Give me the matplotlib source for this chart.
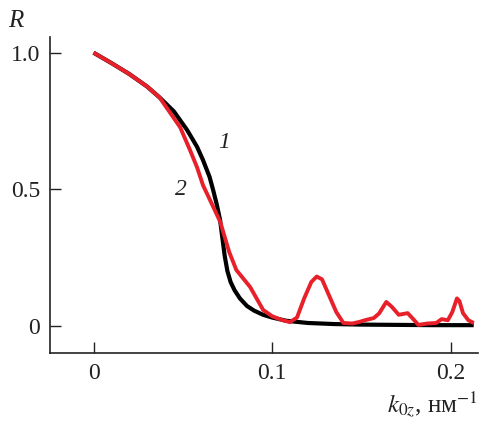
import matplotlib.pyplot as plt

plt.rcParams['font.family'] = ['Liberation Serif', 'DejaVu Serif']
plt.rcParams['mathtext.fontset'] = 'stix'

# curve 1 (black)
k1 = [0.0, 0.010, 0.020, 0.030, 0.037, 0.045, 0.0524, 0.058, 0.0613, 0.065, 0.067,
      0.069, 0.0709, 0.0722, 0.0735, 0.075, 0.0768, 0.079, 0.082, 0.086, 0.090,
      0.095, 0.100, 0.108, 0.120, 0.135, 0.150, 0.170, 0.190, 0.213]
r1 = [1.0, 0.962, 0.922, 0.876, 0.836, 0.785, 0.717, 0.655, 0.607, 0.545, 0.497,
      0.445, 0.387, 0.32, 0.255, 0.20, 0.16, 0.13, 0.10, 0.072, 0.055,
      0.040, 0.030, 0.018, 0.010, 0.006, 0.004, 0.003, 0.002, 0.002]

# curve 2 (red)
k2 = [0.0, 0.010, 0.020, 0.030, 0.037, 0.0485, 0.054, 0.058, 0.0613, 0.066, 0.071,
      0.076, 0.080, 0.0877, 0.095, 0.100, 0.105, 0.110, 0.114, 0.118, 0.122, 0.125,
      0.128, 0.132, 0.136, 0.140, 0.145, 0.149, 0.152, 0.157, 0.160, 0.164, 0.167,
      0.171, 0.176, 0.179, 0.182, 0.187, 0.192, 0.195, 0.1985, 0.201, 0.2036, 0.205,
      0.207, 0.210, 0.213]
r2 = [1.0, 0.962, 0.922, 0.876, 0.836, 0.727, 0.644, 0.58, 0.515, 0.45, 0.38,
      0.27, 0.204, 0.142, 0.058, 0.035, 0.022, 0.013, 0.03, 0.10, 0.16, 0.18,
      0.17, 0.11, 0.05, 0.01, 0.008, 0.014, 0.02, 0.028, 0.045, 0.087, 0.07,
      0.04, 0.046, 0.025, 0.003, 0.008, 0.01, 0.024, 0.02, 0.05, 0.1, 0.09,
      0.046, 0.02, 0.01]

fig = plt.figure(figsize=(4.8, 4.26), dpi=100)
ax = fig.add_axes([50 / 480, 1 - 353 / 426, 428 / 480, 316 / 426])

ax.plot(k1, r1, color='black', lw=3.0, solid_capstyle='butt', zorder=2)
ax.plot(k2, r2, color='#e8202a', lw=2.8, solid_capstyle='butt', zorder=3)

ax.set_xlim(-0.0244, 0.2154)
ax.set_ylim(-0.1, 1.0575)

ax.set_xticks([0, 0.1, 0.2])
ax.set_xticklabels(['0', '0.1', '0.2'])
ax.set_yticks([0, 0.5, 1.0])
ax.set_yticklabels(['0', '0.5', '1.0'])
ax.tick_params(direction='in', length=8, width=1, labelsize=17, pad=7, colors='#222222')

ax.spines['top'].set_visible(False)
ax.spines['right'].set_visible(False)
for s in ['left', 'bottom']:
    ax.spines[s].set_linewidth(1.2)
    ax.spines[s].set_color('#222222')

ax.text(0.0697, 0.65, '1', fontsize=17, style='italic', color='#222222')
ax.text(0.0455, 0.48, '2', fontsize=17, style='italic', color='#222222')

fig.text(8 / 480, 1 - 27 / 426, 'R', fontsize=18, style='italic', color='#222222')
fig.text(478 / 480, 1 - 413 / 426, r'$k_{0z}$, нм$^{-1}$', fontsize=18,
         ha='right', color='#222222')

fig.savefig('out.png', dpi=100, facecolor='white')
